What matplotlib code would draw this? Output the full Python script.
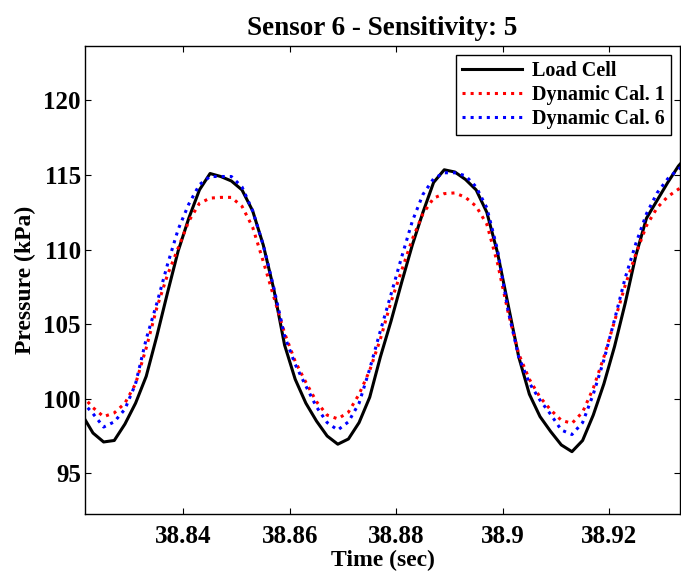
#!/usr/bin/env python3
"""
Sensor 6 pressure trace: load cell vs two dynamic calibrations
"""

import matplotlib
matplotlib.use('Agg')
import matplotlib.pyplot as plt

# time samples (sec)
time_s = [38.821, 38.823, 38.825, 38.827, 38.829, 38.831, 38.833, 38.835,
          38.837, 38.839, 38.841, 38.843, 38.845, 38.847, 38.849, 38.851,
          38.853, 38.855, 38.857, 38.859, 38.861, 38.863, 38.865, 38.867,
          38.869, 38.871, 38.873, 38.875, 38.877, 38.879, 38.881, 38.883,
          38.885, 38.887, 38.889, 38.891, 38.893, 38.895, 38.897, 38.899,
          38.901, 38.903, 38.905, 38.907, 38.909, 38.911, 38.913, 38.915,
          38.917, 38.919, 38.921, 38.923, 38.925, 38.927, 38.929, 38.931,
          38.933, 38.935]

# pressure (kPa)
load_cell = [98.9, 97.7, 97.1, 97.2, 98.3, 99.7, 101.5, 104.2,
             107.1, 109.9, 112.1, 114.0, 115.1, 114.9, 114.6, 114.0,
             112.6, 110.3, 107.3, 103.6, 101.3, 99.7, 98.5, 97.5,
             96.95, 97.3, 98.4, 100.1, 102.8, 105.2, 107.8, 110.3,
             112.5, 114.5, 115.35, 115.2, 114.7, 114.0, 112.5, 109.8,
             106.3, 102.8, 100.3, 98.8, 97.8, 96.9, 96.45, 97.2,
             98.9, 101.0, 103.5, 106.4, 109.6, 112.1, 113.3, 114.5,
             115.6, 116.4]

dyn_cal_1 = [100.2, 99.4, 98.8, 99.05, 99.7, 101.0, 103.4, 106.1,
             108.3, 110.1, 111.9, 113.1, 113.45, 113.5, 113.5, 112.9,
             111.5, 109.2, 106.8, 104.4, 102.5, 101.1, 99.8, 98.9,
             98.65, 99.1, 100.3, 101.9, 104.0, 106.5, 108.6, 110.7,
             112.4, 113.45, 113.75, 113.8, 113.5, 112.9, 111.7, 109.1,
             105.8, 103.0, 101.3, 100.1, 99.25, 98.55, 98.35, 99.1,
             100.7, 102.8, 105.2, 107.6, 109.7, 111.6, 112.8, 113.55,
             114.05, 114.4]

dyn_cal_6 = [99.8, 99.0, 98.1, 98.45, 99.3, 101.0, 104.0, 106.4,
             109.0, 111.35, 113.05, 114.35, 114.9, 114.9, 114.9, 114.2,
             112.6, 110.3, 107.4, 104.2, 102.3, 100.85, 99.45, 98.4,
             97.9, 98.45, 99.7, 102.0, 104.55, 107.0, 109.5, 111.9,
             113.7, 114.75, 115.15, 115.15, 114.95, 114.2, 112.8, 110.0,
             105.9, 102.8, 101.05, 99.9, 98.95, 97.9, 97.6, 98.4,
             100.3, 102.6, 105.3, 108.1, 110.4, 112.4, 113.8, 114.75,
             115.4, 115.9]

x_ticks = [38.84, 38.86, 38.88, 38.9, 38.92]
x_tick_labels = ['38.84', '38.86', '38.88', '38.9', '38.92']
y_ticks = [95, 100, 105, 110, 115, 120]

plt.rcParams['font.family'] = ['Liberation Serif', 'DejaVu Serif']
plt.rcParams['font.weight'] = 'bold'

fig = plt.figure(figsize=(6.81, 5.77), dpi=100)
ax = fig.add_axes([85 / 681, 1 - 514 / 577, 595 / 681, 468 / 577])

ax.plot(time_s, load_cell, '-', color='black', linewidth=2.2, label='Load Cell')
ax.plot(time_s, dyn_cal_1, ':', color='#ff0000', linewidth=2.2, label='Dynamic Cal. 1')
ax.plot(time_s, dyn_cal_6, ':', color='#0000ff', linewidth=2.2, label='Dynamic Cal. 6')

ax.set_xlim(38.8215, 38.9333)
ax.set_ylim(92.27, 123.65)
ax.set_xticks(x_ticks)
ax.set_xticklabels(x_tick_labels)
ax.set_yticks(y_ticks)

ax.tick_params(direction='in', top=True, right=True, length=4, width=0.8,
               labelsize=18)
ax.tick_params(axis='x', pad=8)
ax.tick_params(axis='y', pad=3)
for sp in ax.spines.values():
    sp.set_linewidth(1.0)

ax.set_title('Sensor 6 - Sensitivity: 5', fontsize=19.5, fontweight='bold', pad=8)
ax.set_xlabel('Time (sec)', fontsize=17, fontweight='bold', labelpad=1)
ax.set_ylabel('Pressure (kPa)', fontsize=17, fontweight='bold', labelpad=5)

leg = ax.legend(loc='upper right', fontsize=14.5, fancybox=False, framealpha=1,
                edgecolor='black', handlelength=3.0, borderaxespad=0.45,
                labelspacing=0.2, borderpad=0.3, handletextpad=0.5)
leg.get_frame().set_linewidth(1.0)

fig.savefig('out.png', dpi=100)
